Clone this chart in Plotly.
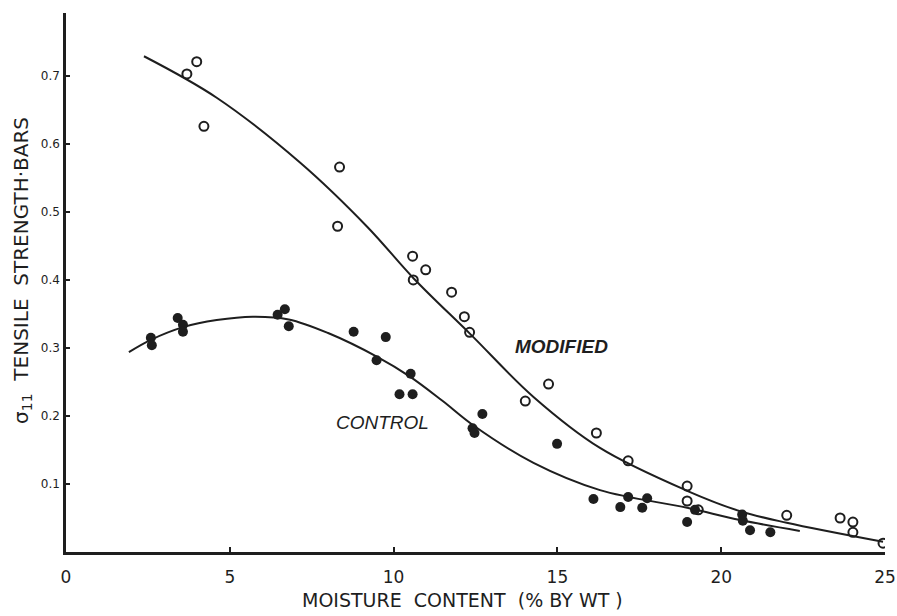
import plotly.graph_objects as go

# Tensile strength vs moisture content, modified and control soils

# Measured points: modified (open circles)
mod_x = [3.69, 3.99, 4.21, 8.35, 8.29, 10.58, 10.60, 10.98, 11.77, 12.16, 12.32,
         14.02, 14.73, 16.19, 17.16, 18.96, 18.96, 19.30, 22.0, 23.63, 24.02, 24.02, 24.94]
mod_y = [0.703, 0.721, 0.626, 0.566, 0.479, 0.435, 0.400, 0.415, 0.382, 0.346, 0.323,
         0.222, 0.247, 0.175, 0.134, 0.097, 0.075, 0.062, 0.054, 0.050, 0.044, 0.029, 0.013]

# Measured points: control (filled circles)
ctl_x = [2.59, 2.62, 3.41, 3.57, 3.57, 6.46, 6.68, 6.80, 8.78, 9.76, 9.48, 10.52,
         10.18, 10.58, 12.71, 12.41, 12.47, 14.99, 16.10, 16.92, 17.16, 17.59, 17.74,
         18.96, 19.20, 20.64, 20.66, 20.88, 21.50]
ctl_y = [0.315, 0.304, 0.344, 0.334, 0.324, 0.349, 0.357, 0.332, 0.324, 0.316, 0.282, 0.262,
         0.232, 0.232, 0.203, 0.182, 0.175, 0.159, 0.078, 0.066, 0.081, 0.065, 0.079,
         0.044, 0.062, 0.055, 0.046, 0.032, 0.029]

# Fitted curves
mod_fit_x = [2.38, 4.60, 7.16, 9.20, 10.60, 12.35, 14.27, 16.30, 18.96, 20.58, 22.0, 24.94]
mod_fit_y = [0.729, 0.668, 0.572, 0.478, 0.403, 0.320, 0.228, 0.153, 0.090, 0.060, 0.043, 0.015]

ctl_fit_x = [1.92, 2.59, 3.60, 4.60, 5.70, 6.80, 8.00, 9.50, 10.50, 11.50, 12.44, 14.27, 16.30, 18.96, 20.58, 22.40]
ctl_fit_y = [0.294, 0.312, 0.331, 0.341, 0.346, 0.342, 0.322, 0.287, 0.258, 0.222, 0.186, 0.131, 0.091, 0.065, 0.047, 0.031]

x_ticks = [0, 5, 10, 15, 20, 25]
y_ticks = [0.1, 0.2, 0.3, 0.4, 0.5, 0.6, 0.7]
y_tick_text = ["0.1", "0.2", "0.3", "0.4", "0.5", "0.6", "0.7"]

INK = "#1e1e1e"

fig = go.Figure()

fig.add_trace(go.Scatter(x=mod_fit_x, y=mod_fit_y, mode="lines",
                         line=dict(color=INK, width=2, shape="spline", smoothing=1.0),
                         hoverinfo="skip"))
fig.add_trace(go.Scatter(x=ctl_fit_x, y=ctl_fit_y, mode="lines",
                         line=dict(color=INK, width=2, shape="spline", smoothing=1.0),
                         hoverinfo="skip"))
fig.add_trace(go.Scatter(x=mod_x, y=mod_y, mode="markers",
                         marker=dict(symbol="circle-open", size=9, color=INK,
                                     line=dict(width=2, color=INK))))
fig.add_trace(go.Scatter(x=ctl_x, y=ctl_y, mode="markers",
                         marker=dict(symbol="circle", size=10, color=INK)))

fig.add_annotation(x=15.12, y=0.302, text="<b><i>MODIFIED</i></b>", showarrow=False,
                   xanchor="center", yanchor="middle",
                   font=dict(family="Liberation Sans", size=19, color=INK))
fig.add_annotation(x=9.66, y=0.190, text="<i>CONTROL</i>", showarrow=False,
                   xanchor="center", yanchor="middle",
                   font=dict(family="Liberation Sans", size=19, color=INK))

# Axis titles
fig.add_annotation(xref="paper", yref="paper", x=0.484, y=-0.089,
                   xanchor="center", yanchor="middle",
                   text="MOISTURE  CONTENT  (% BY WT )", showarrow=False,
                   font=dict(family="DejaVu Sans", size=19, color=INK))
fig.add_annotation(xref="paper", yref="paper", x=-0.054, y=0.523, textangle=-90,
                   xanchor="center", yanchor="middle",
                   text="σ<sub>11</sub>  TENSILE  STRENGTH·BARS", showarrow=False,
                   font=dict(family="DejaVu Sans", size=20, color=INK))

fig.update_layout(
    width=897, height=616,
    margin=dict(l=66, r=12, t=13, b=64),
    paper_bgcolor="white", plot_bgcolor="white",
    showlegend=False,
    xaxis=dict(range=[0, 25], tickvals=x_ticks, ticktext=[str(v) for v in x_ticks],
               automargin=False,
               showgrid=False, zeroline=False, showline=True, linecolor=INK, linewidth=2.5,
               ticks="inside", ticklen=5, tickcolor=INK, tickwidth=1.5,
               ticklabelstandoff=8,
               tickfont=dict(family="DejaVu Sans", size=17, color=INK)),
    yaxis=dict(range=[0, 0.7926], tickvals=y_ticks, ticktext=y_tick_text,
               automargin=False,
               showgrid=False, zeroline=False, showline=True, linecolor=INK, linewidth=2.5,
               ticks="inside", ticklen=4, tickcolor=INK, tickwidth=1.5,
               ticklabelstandoff=1,
               tickfont=dict(family="DejaVu Sans", size=12, color=INK)),
)

fig.write_html("out.html")
